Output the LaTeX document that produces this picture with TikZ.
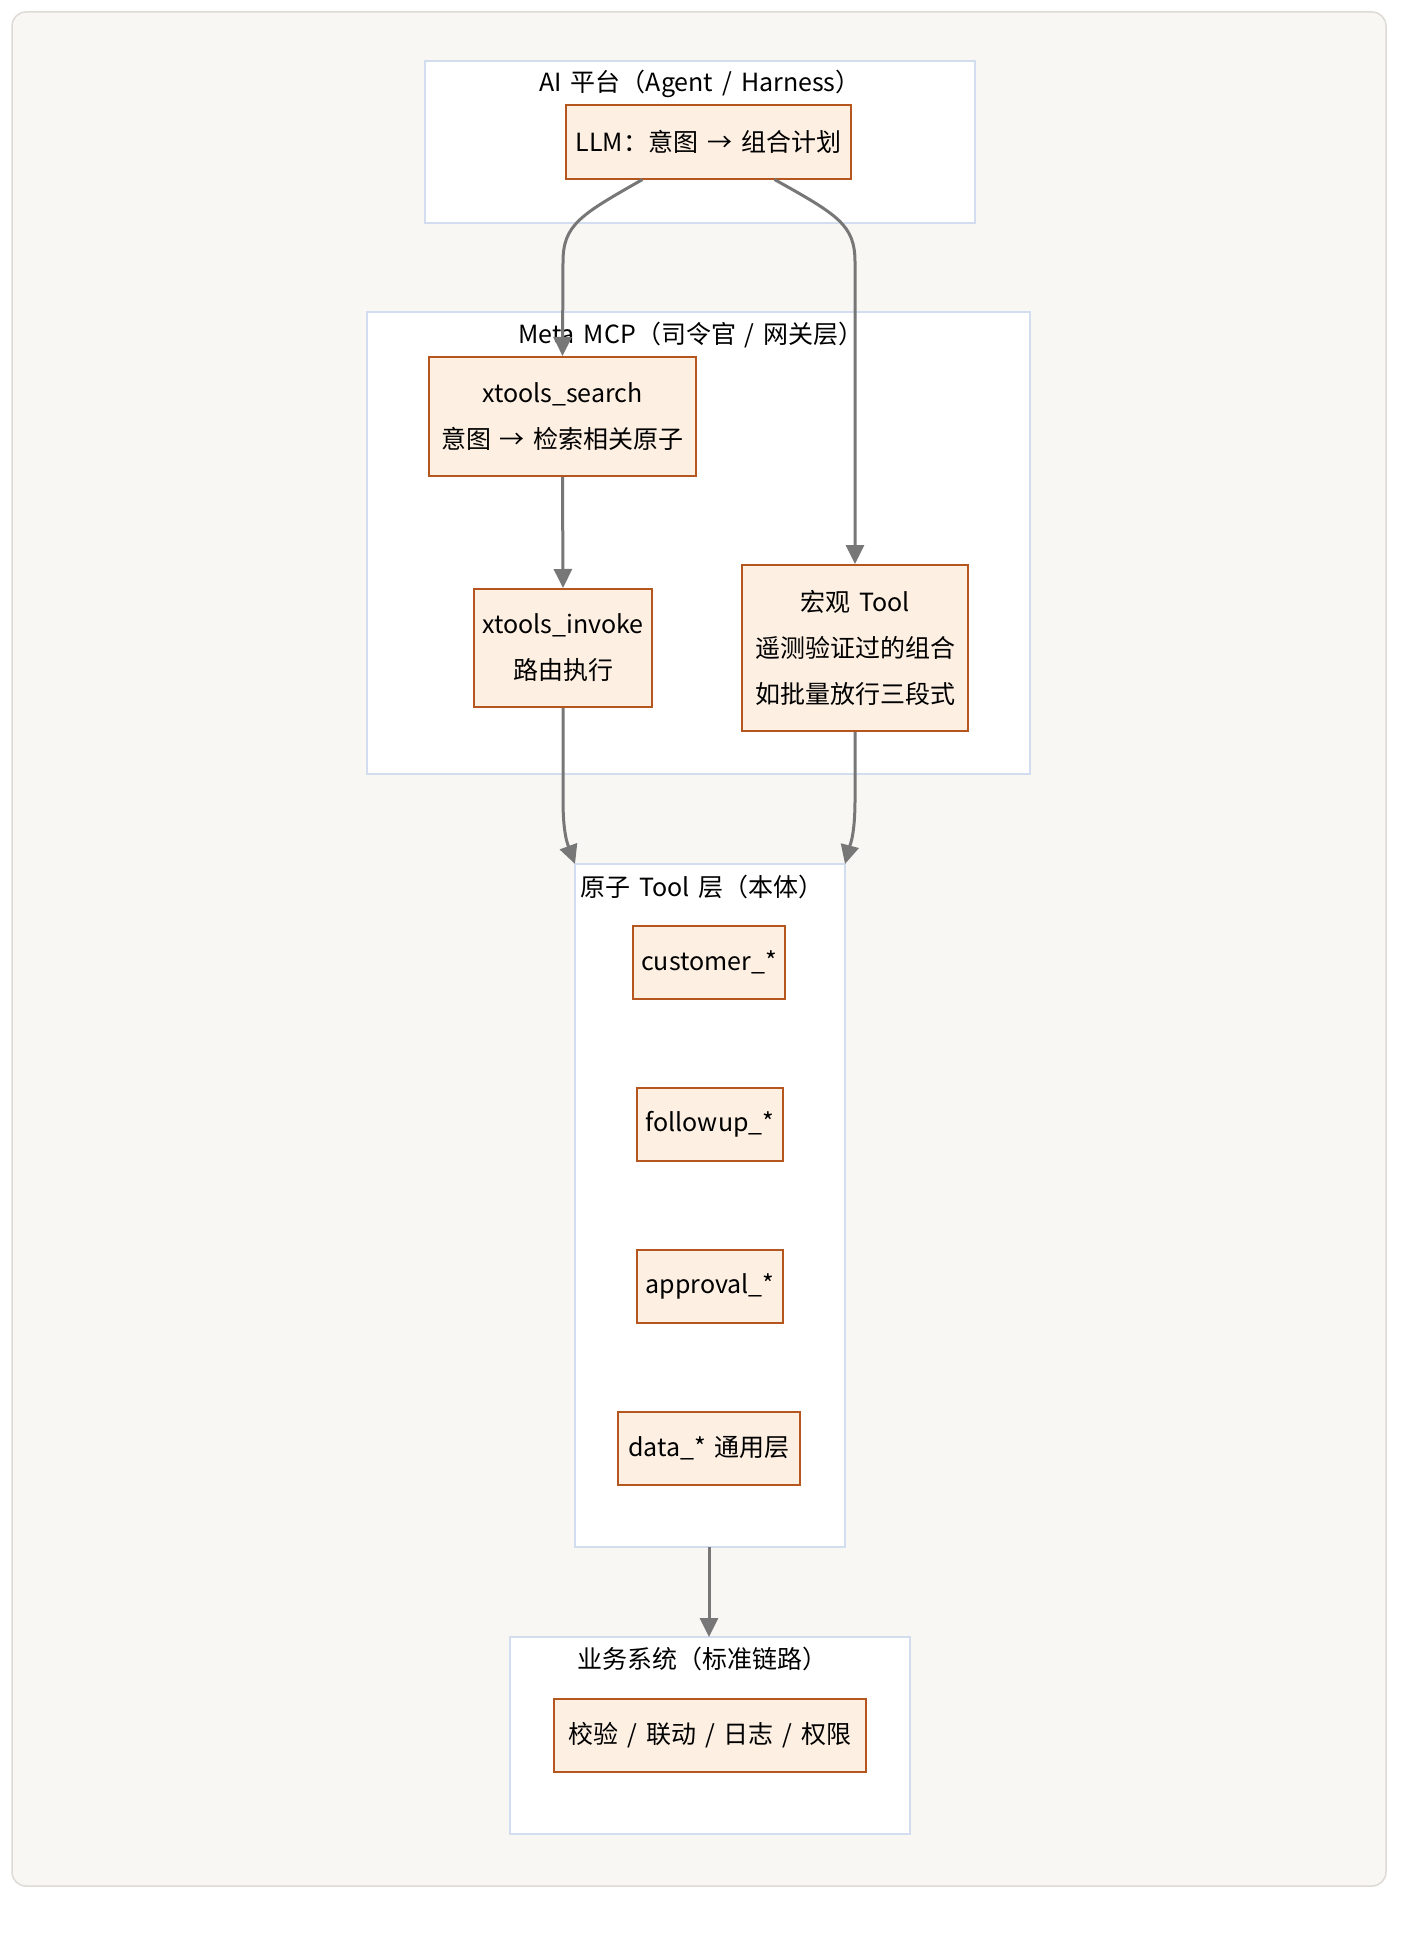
\documentclass[tikz,border=0pt]{standalone}
\usepackage{fontspec}
\setmainfont[WordSpace=1.6]{Noto Sans CJK SC}
\usetikzlibrary{arrows.meta}
\definecolor{bgc}{HTML}{F8F7F4}
\definecolor{bgline}{HTML}{DEDBD6}
\definecolor{nfill}{HTML}{FDEFE2}
\definecolor{nline}{HTML}{B4561E}
\definecolor{cline}{HTML}{D2DEF0}
\definecolor{eline}{HTML}{777777}
\tikzset{
  nodebox/.style={draw=nline, fill=nfill, line width=2pt, align=center, inner sep=0pt, font=\fontsize{25}{46}\selectfont},
  clusterbox/.style={draw=cline, fill=white, line width=1.5pt},
  ctitle/.style={font=\fontsize{25}{28}\selectfont, inner sep=0pt},
  edge/.style={draw=eline, line width=3pt, -{Triangle[length=19pt,width=18pt]}},
}
\begin{document}
\begin{tikzpicture}[x=1pt,y=-1pt]
\useasboundingbox (0,0) rectangle (1400,1940);
\fill[white] (0,0) rectangle (1400,1940);
\draw[fill=bgc, draw=bgline, line width=1.5pt, rounded corners=14pt] (12,12) rectangle (1386,1886);
% clusters
\draw[clusterbox] (425,61) rectangle (975,223);
\node[ctitle] (tai) at (700,84) {AI 平台（Agent / Harness）};
\draw[clusterbox] (367,312) rectangle (1030,774);
\draw[clusterbox] (575,864) rectangle (845,1547);
\coordinate (atomNW) at (575,864);
\coordinate (atomNE) at (845,864);
\coordinate (atomS) at (709,1547);
\node[ctitle] (tatom) at (702,887) {原子 Tool 层（本体）};
\draw[clusterbox] (510,1637) rectangle (910,1834);
\coordinate (bizN) at (709,1637);
\node[ctitle] (tbiz) at (702,1659) {业务系统（标准链路）};
% nodes
\node[nodebox, minimum width=285pt, minimum height=73pt] (llm) at (708.5,142) {LLM：意图 → 组合计划};
\node[nodebox, minimum width=267pt, minimum height=119pt] (search) at (562.5,416.5) {xtools\_search\\意图 → 检索相关原子};
\node[nodebox, minimum width=178pt, minimum height=118pt] (invoke) at (563,648) {xtools\_invoke\\路由执行};
\node[nodebox, minimum width=226pt, minimum height=166pt] (macro) at (855,648) {宏观 Tool\\遥测验证过的组合\\如批量放行三段式};
\node[nodebox, minimum width=152pt, minimum height=73pt] (cust) at (709,962.5) {customer\_*};
\node[nodebox, minimum width=146pt, minimum height=73pt] (follow) at (710,1124.5) {followup\_*};
\node[nodebox, minimum width=146pt, minimum height=73pt] (appr) at (710,1286.5) {approval\_*};
\node[nodebox, minimum width=182pt, minimum height=73pt] (data) at (709,1448.5) {data\_* 通用层};
\node[nodebox, minimum width=312pt, minimum height=73pt] (biz) at (710,1735.5) {校验 / 联动 / 日志 / 权限};
% Meta title
\node[ctitle] (tmeta) at (691,335) {Meta MCP（司令官 / 网关层）};
% edges
\draw[edge] ([xshift=-66pt]llm.south) .. controls (580,215) and (563,225) .. (563,262) -- (search.north);
\draw[edge] ([xshift=66pt]llm.south) .. controls (838,215) and (855,225) .. (855,262) -- (macro.north);
\draw[edge] (search.south) -- (invoke.north);
\draw[edge] (invoke.south) -- (563,800) .. controls (563,835) and (568,845) .. (atomNW);
\draw[edge] (macro.south) -- (855,800) .. controls (855,835) and (850,845) .. (atomNE);
\draw[edge] (atomS) -- (bizN);
\end{tikzpicture}
\end{document}
